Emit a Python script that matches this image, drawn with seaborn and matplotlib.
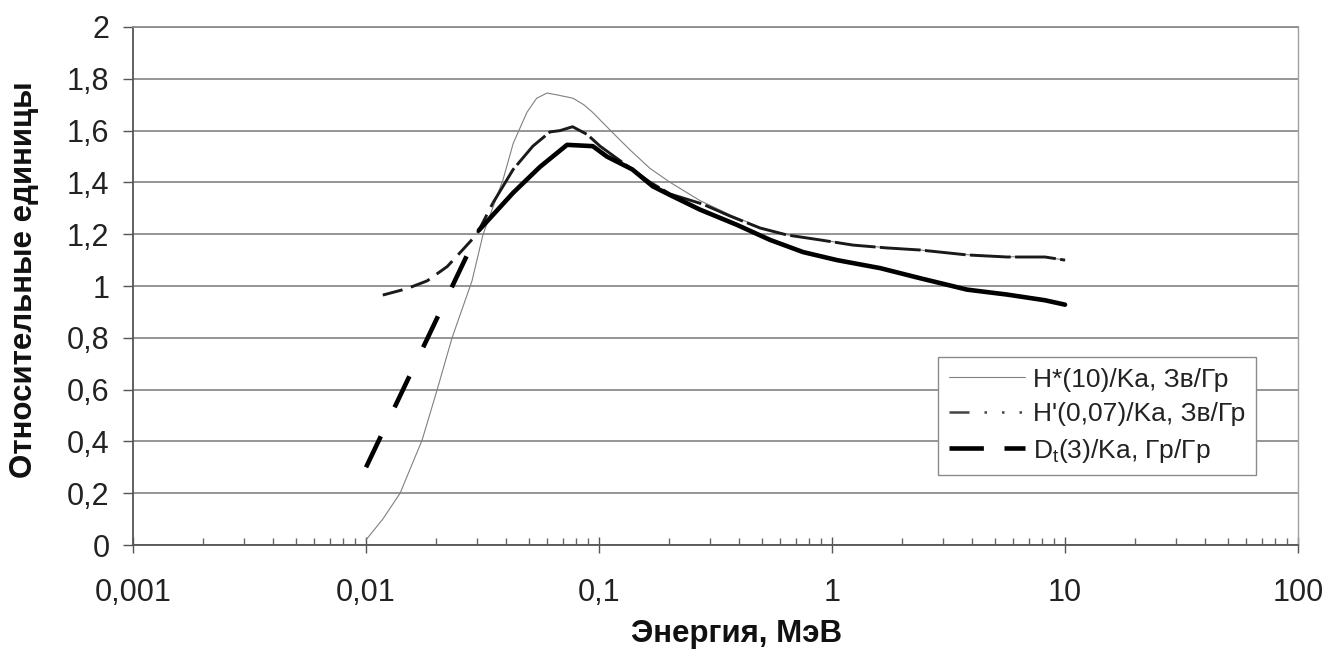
import numpy as np
import pandas as pd
import matplotlib
matplotlib.use("Agg")
import matplotlib.pyplot as plt
from matplotlib.lines import Line2D
from matplotlib.ticker import FixedLocator, NullFormatter
import seaborn as sns

# -----------------------------------------------------------------
# Datos (energía en MeV, valores relativos)
# -----------------------------------------------------------------
e_hstar = [0.01, 0.0118, 0.014, 0.0174, 0.0202, 0.0234, 0.0285, 0.0318, 0.0387,
           0.0428, 0.049, 0.054, 0.0598, 0.066, 0.0773, 0.086, 0.094, 0.115, 0.136,
           0.165, 0.202, 0.271, 0.365, 0.491, 0.641, 0.888, 1.23, 1.72, 2.39, 3.8,
           5.64, 8.2, 10]
v_hstar = [0.02, 0.10, 0.20, 0.405, 0.60, 0.80, 1.02, 1.20, 1.41,
           1.55, 1.67, 1.725, 1.745, 1.738, 1.725, 1.70, 1.67, 1.59, 1.525,
           1.455, 1.40, 1.33, 1.275, 1.226, 1.198, 1.179, 1.159, 1.148, 1.139, 1.121,
           1.113, 1.112, 1.10]

e_hprime = [0.0118, 0.015, 0.0183, 0.0223, 0.026, 0.0299, 0.035, 0.0428, 0.052,
            0.0616, 0.068, 0.077, 0.089, 0.101, 0.127, 0.166, 0.202, 0.279,
            0.365, 0.491, 0.641, 0.888, 1.23, 1.72, 2.39, 3.8, 5.64, 8.2, 10]
v_hprime = [0.965, 0.99, 1.02, 1.075, 1.14, 1.20, 1.32, 1.45, 1.54,
            1.595, 1.60, 1.615, 1.585, 1.54, 1.475, 1.40, 1.355, 1.316,
            1.27, 1.224, 1.197, 1.178, 1.158, 1.147, 1.139, 1.12, 1.112, 1.112, 1.10]

e_dt = [0.01, 0.0305, 0.0428, 0.0558, 0.0729, 0.094, 0.108, 0.139, 0.17, 0.202,
        0.271, 0.391, 0.542, 0.751, 1.05, 1.61, 2.39, 3.8, 5.64, 8.2, 10]
v_dt = [0.30, 1.215, 1.36, 1.46, 1.545, 1.54, 1.50, 1.45, 1.385, 1.351,
        1.295, 1.236, 1.178, 1.131, 1.10, 1.069, 1.03, 0.986, 0.967, 0.945, 0.928]

series_labels = ["H*(10)/Ka, Зв/Гр", "H'(0,07)/Ka, Зв/Гр", "D$_\\mathregular{t}$(3)/Ka, Гр/Гр"]

x_ticks = [0.001, 0.01, 0.1, 1, 10, 100]
x_tick_labels = ["0,001", "0,01", "0,1", "1", "10", "100"]
y_ticks = [0, 0.2, 0.4, 0.6, 0.8, 1.0, 1.2, 1.4, 1.6, 1.8, 2.0]
y_tick_labels = ["0", "0,2", "0,4", "0,6", "0,8", "1", "1,2", "1,4", "1,6", "1,8", "2"]

# -----------------------------------------------------------------
# Estilo
# -----------------------------------------------------------------
sns.set_style("white")
plt.rcParams["font.family"] = ["Liberation Sans", "DejaVu Sans"]
plt.rcParams["mathtext.fontset"] = "custom"
plt.rcParams["mathtext.rm"] = "Liberation Sans"

fig = plt.figure(figsize=(13.29, 6.49), dpi=100)
ax = fig.add_axes([0.1001, 0.1602, 0.8766, 0.7982])

# H*(10): linea fina gris
sns.lineplot(x=e_hstar, y=v_hstar, ax=ax, color="#808080", linewidth=0.8,
             estimator=None, legend=False, zorder=3)

# H'(0,07): tramo inicial (pocos puntos) y tramo denso
n_sparse_h = 7
sns.lineplot(x=e_hprime[:n_sparse_h], y=v_hprime[:n_sparse_h], ax=ax, color="#1a1a1a",
             linewidth=2.1, linestyle=(0, (7, 3)), estimator=None, legend=False, zorder=4)
sns.lineplot(x=e_hprime[n_sparse_h - 1:], y=v_hprime[n_sparse_h - 1:], ax=ax, color="#1a1a1a",
             linewidth=2.1, linestyle=(0, (14, 1.5)), estimator=None, legend=False, zorder=4)

# Dt(3): tramo inicial a trazos largos y tramo denso continuo
sns.lineplot(x=e_dt[:2], y=v_dt[:2], ax=ax, color="black", linewidth=3.3,
             linestyle=(0, (7.5, 7)), estimator=None, legend=False, zorder=5)
sns.lineplot(x=e_dt[1:], y=v_dt[1:], ax=ax, color="black", linewidth=3.3,
             estimator=None, legend=False, zorder=5)

# Ejes
ax.set_xscale("log")
ax.set_xlim(0.001, 100)
ax.set_ylim(0, 2)
ax.xaxis.set_major_locator(FixedLocator(x_ticks))
ax.set_xticklabels(x_tick_labels)
ax.xaxis.set_minor_locator(FixedLocator(
    [m * d for d in [0.001, 0.01, 0.1, 1, 10] for m in range(2, 10)]))
ax.xaxis.set_minor_formatter(NullFormatter())
ax.set_yticks(y_ticks)
ax.set_yticklabels(y_tick_labels)

ax.tick_params(axis="x", which="major", bottom=True, direction="inout", length=12, width=1,
               color="#555555", labelsize=22, labelcolor="#222222", pad=18)
ax.tick_params(axis="x", which="minor", bottom=True, direction="in", length=5, width=1,
               color="#666666")
ax.tick_params(axis="y", which="major", left=True, direction="out", length=7, width=1,
               color="#555555", labelsize=22, labelcolor="#222222", pad=10)

ax.yaxis.grid(True, color="#8c8c8c", linewidth=1.3)
ax.xaxis.grid(False)
ax.set_axisbelow(True)

for side in ["left", "bottom"]:
    ax.spines[side].set_color("#555555")
    ax.spines[side].set_linewidth(1.3)
ax.spines["top"].set_color("#8c8c8c")
ax.spines["top"].set_linewidth(1.3)
ax.spines["right"].set_color("#a0a0a0")
ax.spines["right"].set_linewidth(1.0)

ax.set_xlabel("Энергия, МэВ", fontsize=22.5, fontweight="bold", color="#111111")
ax.xaxis.set_label_coords(0.518, -0.142)
ax.set_ylabel("Относительные единицы", fontsize=22.5, fontweight="bold", color="#111111")
ax.yaxis.set_label_coords(-0.081, 0.512)

# Leyenda
handles = [
    Line2D([], [], color="#808080", linewidth=0.8),
    Line2D([], [], color="#444444", linewidth=1.8, linestyle=(0, (8, 6, 1, 6, 1, 6, 1, 6))),
    Line2D([], [], color="black", linewidth=3.3, linestyle=(0, (7.5, 4.5))),
]
leg = ax.legend(handles, series_labels, loc="upper left", bbox_to_anchor=(0.691, 0.363),
                borderaxespad=0, fontsize=19, frameon=True, fancybox=False,
                framealpha=1, edgecolor="#8a8a8a", handlelength=2.9,
                handletextpad=0.3, borderpad=0.4, labelspacing=0.4)
leg.get_frame().set_linewidth(1.0)
for t in leg.get_texts():
    t.set_color("#222222")

fig.savefig("out.png", dpi=100)
